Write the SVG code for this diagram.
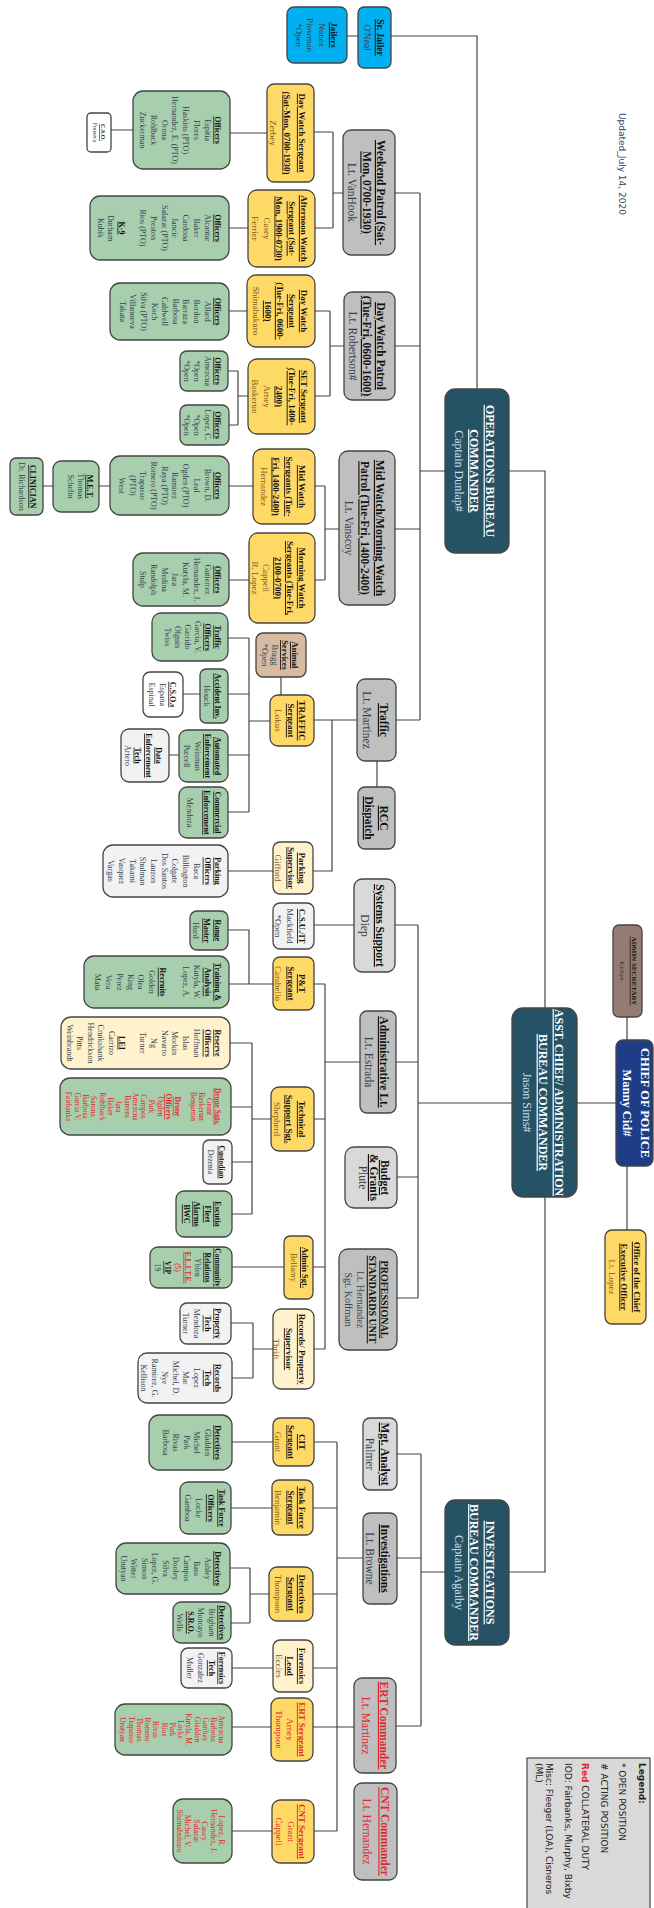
<svg xmlns="http://www.w3.org/2000/svg" width="654" height="1908" viewBox="0 0 654 1908">
<style>
text{font-family:"Liberation Serif","Times New Roman",serif;text-anchor:middle}
.h{font-weight:bold;text-decoration:underline;fill:#111}
.n{fill:#34404f}
.ny{fill:#7a5a1c}
.r{fill:#e3262d}
.hr{font-weight:bold;text-decoration:underline;fill:#e3262d}
.w{fill:#fff;font-weight:bold;text-decoration:underline}
.wl{fill:#cfdeea}
.wc{fill:#fff;font-weight:bold}
.bx{stroke:#444;stroke-width:1.3}
.fy{fill:#ffd966}.fg{fill:#a7cfae}.fgr{fill:#bfbfbf}.flg{fill:#d9d9d9}.fcr{fill:#fff2cc}.fwh{fill:#fff}.fpl{fill:#f2f2f2}.fbl{fill:#00b0f0}.fcm{fill:#265266}.fch{fill:#1f3d86}.ftn{fill:#d7baa0}.fbr{fill:#947c72}
.lg text{font-family:"DejaVu Sans","Verdana",sans-serif;text-anchor:start;fill:#222}
#connectors path{fill:none;stroke:#444;stroke-width:1.2}
</style>

<g id="connectors">
<path d="M347,36H358M391,36H477V389"/>
<path d="M111,130H133M230,133H267M229,228H248"/>
<path d="M314,132H333M315,228H333M333,132V228M333,193H343M395,193H420M420,193V720M420,471H445"/>
<path d="M229,311H247M315,311H330M315,396H330M330,311V396M330,346H344M395,346H420"/>
<path d="M248,396H238M238,371V425M228,371H238M229,425H238"/>
<path d="M229,486H253M99,486H110M43,486H53M229,580H249"/>
<path d="M315,486H325M315,580H325M325,486V580M325,529H339M395,529H420"/>
<path d="M396,720H420M357,720H314M332,720V871H313M377,761V787M281,677V695"/>
<path d="M270,721H249M249,638V812M228,638H249M228,694H249M228,755H249M228,812H249M183,694H200M169,755H179M228,871H273"/>
<path d="M509,471H545V1008M545,1197V1572H509M577,1103H616M627,1017V1040M627,1166V1230"/>
<path d="M512,1103H418M418,925V1298M395,925H418M354,925H314M396,1062H418M360,1062H325M397,1177H418M397,1298H418"/>
<path d="M325,984V1349M314,984H325M273,984H229M228,930H249V984"/>
<path d="M314,1119H325M271,1119H252M252,1043V1214M230,1043H252M231,1107H252M232,1162H252M232,1214H252"/>
<path d="M313,1267H325M284,1267H232M314,1349H325M273,1349H253M253,1323V1378M231,1323H253M232,1378H253"/>
<path d="M445,1572H421M421,1454V1726M397,1454H421M397,1558H421M363,1558H337M396,1726H421M337,1442V1831"/>
<path d="M314,1442H337M273,1442H232M313,1508H337M272,1508H231M313,1594H337M269,1594H250M250,1568V1623M230,1568H250M231,1623H250"/>
<path d="M313,1668H337M273,1668H232M313,1727H354M271,1727H232M314,1831H337M272,1831H232"/>
</g>

<g id="updated" class="lg"><text transform="translate(619,113) rotate(90)" font-size="9" style="fill:#2f3f6f">Updated_July 14, 2020</text></g>

<g id="jailers"><rect class="bx fbl" x="287" y="7" width="60" height="56" rx="7"/><g transform="translate(317,35) rotate(90)"><text y="-13.8" font-size="9"><tspan x="0" class="h">Jailers</tspan><tspan x="0" dy="11.7" class="n">Nunez</tspan><tspan x="0" dy="11.7" class="n">Plowman</tspan><tspan x="0" dy="11.7" class="n">*Open</tspan></text></g></g>

<g id="sr-jailer"><rect class="bx fbl" x="358" y="7" width="33" height="61" rx="6"/><g transform="translate(374.5,37.5) rotate(90)"><text y="-2.2" font-size="9.5"><tspan x="0" class="h">Sr. Jailer</tspan><tspan x="0" dy="13" class="n">O'Neal</tspan></text></g></g>

<g id="weekend-patrol"><rect class="bx fgr" x="343" y="130" width="52" height="125" rx="8"/><g transform="translate(369,192.5) rotate(90)"><text y="-8" font-size="11.5"><tspan x="0" class="h">Weekend Patrol (Sat-</tspan><tspan x="0" dy="14.5" class="h">Mon, 0700-1930)</tspan><tspan x="0" dy="14.5" class="n">Lt. VanHook</tspan></text></g></g>

<g id="day-watch-sgt-weekend"><rect class="bx fy" x="267" y="84" width="47" height="98" rx="7"/><g transform="translate(290.5,133) rotate(90)"><text y="-8.3" font-size="9"><tspan x="0" class="h">Day Watch Sergeant</tspan><tspan x="0" dy="14.5" class="h">(Sat-Mon, 0700-1930)</tspan><tspan x="0" dy="14.5" class="ny">Zerbey</tspan></text></g></g>

<g id="officers-weekend-day"><rect class="bx fg" x="133" y="91" width="97" height="78" rx="10"/><g transform="translate(181.5,130) rotate(90)"><text y="-33.7" font-size="8"><tspan x="0" class="h">Officers</tspan><tspan x="0" dy="10.7" class="n">Espitia</tspan><tspan x="0" dy="10.7" class="n">Flores</tspan><tspan x="0" dy="10.7" class="n">Haskins (PTO)</tspan><tspan x="0" dy="10.7" class="n">Hernandez, E. (PTO)</tspan><tspan x="0" dy="10.7" class="n">Orona</tspan><tspan x="0" dy="10.7" class="n">Rohlback</tspan><tspan x="0" dy="10.7" class="n">Zuckerman</tspan></text></g></g>

<g id="cso-weekend"><rect class="bx fwh" x="87" y="113" width="24" height="39" rx="4"/><g transform="translate(99,132.5) rotate(90)"><text y="-1.9" font-size="6"><tspan x="0" class="h">C.S.O.</tspan><tspan x="0" dy="8" class="n">Fonseca</tspan></text></g></g>

<g id="afternoon-watch-sgt"><rect class="bx fy" x="248" y="190" width="67" height="77" rx="9"/><g transform="translate(281.5,228.5) rotate(90)"><text y="-19.3" font-size="9"><tspan x="0" class="h">Afternoon Watch</tspan><tspan x="0" dy="12.2" class="h">Sergeant (Sat-</tspan><tspan x="0" dy="12.2" class="h">Mon, 1900-0730)</tspan><tspan x="0" dy="12.2" class="ny">Casey</tspan><tspan x="0" dy="12.2" class="ny">Ferrier</tspan></text></g></g>

<g id="officers-weekend-night"><rect class="bx fg" x="90" y="196" width="139" height="64" rx="10"/><g transform="translate(159.5,228) rotate(90)"><text y="-55.7" font-size="8"><tspan x="0" class="h">Officers</tspan><tspan x="0" dy="10.7" class="n">Alcantar</tspan><tspan x="0" dy="10.7" class="n">Baker</tspan><tspan x="0" dy="10.7" class="n">Cardona</tspan><tspan x="0" dy="10.7" class="n">Jancic</tspan><tspan x="0" dy="10.7" class="n">Salazar (PTO)</tspan><tspan x="0" dy="10.7" class="n">Preston</tspan><tspan x="0" dy="10.7" class="n">Rios (PTO)</tspan><tspan x="0" dy="21" class="h">K-9</tspan><tspan x="0" dy="11" class="n">Durham</tspan><tspan x="0" dy="10.5" class="n">Kubik</tspan></text></g></g>

<g id="day-watch-sgt-tf"><rect class="bx fy" x="247" y="275" width="68" height="72" rx="9"/><g transform="translate(281,311) rotate(90)"><text y="-19.8" font-size="9"><tspan x="0" class="h">Day Watch</tspan><tspan x="0" dy="12" class="h">Sergeant</tspan><tspan x="0" dy="12" class="h">(Tue-Fri, 0600-</tspan><tspan x="0" dy="12" class="h">1600)</tspan><tspan x="0" dy="12" class="ny">Shimabukuro</tspan></text></g></g>

<g id="officers-tf-day"><rect class="bx fg" x="110" y="283" width="119" height="57" rx="10"/><g transform="translate(169.5,311.5) rotate(90)"><text y="-45.7" font-size="8"><tspan x="0" class="h">Officers</tspan><tspan x="0" dy="10.6" class="n">Allard</tspan><tspan x="0" dy="10.6" class="n">Bordon</tspan><tspan x="0" dy="10.6" class="n">Barraza</tspan><tspan x="0" dy="10.6" class="n">Barbosa</tspan><tspan x="0" dy="10.6" class="n">Caldwell</tspan><tspan x="0" dy="10.6" class="n">Koch</tspan><tspan x="0" dy="10.6" class="n">Silva (PTO)</tspan><tspan x="0" dy="10.6" class="n">Villanueva</tspan><tspan x="0" dy="10.6" class="n">Takata</tspan></text></g></g>

<g id="day-watch-patrol-tf"><rect class="bx fgr" x="344" y="292" width="51" height="108" rx="8"/><g transform="translate(369.5,346) rotate(90)"><text y="-7.5" font-size="11.5"><tspan x="0" class="h">Day Watch Patrol</tspan><tspan x="0" dy="14" class="h">(Tue-Fri, 0600-1600)</tspan><tspan x="0" dy="14" class="n">Lt. Robertson#</tspan></text></g></g>

<g id="set-sgt"><rect class="bx fy" x="248" y="359" width="67" height="75" rx="9"/><g transform="translate(281.5,396.5) rotate(90)"><text y="-19.3" font-size="9"><tspan x="0" class="h">SET Sergeant</tspan><tspan x="0" dy="12.2" class="h">(Tue-Fri, 1400-</tspan><tspan x="0" dy="12.2" class="h">2400)</tspan><tspan x="0" dy="12.2" class="ny">Arney</tspan><tspan x="0" dy="12.2" class="ny">Baskerun</tspan></text></g></g>

<g id="set-officers-a"><rect class="bx fg" x="180" y="351" width="48" height="40" rx="7"/><g transform="translate(204,371) rotate(90)"><text y="-11.2" font-size="8"><tspan x="0" class="h">Officers</tspan><tspan x="0" dy="10.5" class="n">Amezcua</tspan><tspan x="0" dy="10.5" class="n">*Open</tspan><tspan x="0" dy="10.5" class="n">*Open</tspan></text></g></g>

<g id="set-officers-b"><rect class="bx fg" x="180" y="405" width="49" height="40" rx="7"/><g transform="translate(204.5,425) rotate(90)"><text y="-10.7" font-size="8"><tspan x="0" class="h">Officers</tspan><tspan x="0" dy="10.5" class="n">Lopez, C.</tspan><tspan x="0" dy="10.5" class="n">*Open</tspan><tspan x="0" dy="10.5" class="n">*Open</tspan></text></g></g>

<g id="mid-watch-sgt"><rect class="bx fy" x="253" y="449" width="62" height="75" rx="9"/><g transform="translate(284,486.5) rotate(90)"><text y="-14.8" font-size="9"><tspan x="0" class="h">Mid Watch</tspan><tspan x="0" dy="12.7" class="h">Sergeants (Tue-</tspan><tspan x="0" dy="12.7" class="h">Fri, 1400-2400)</tspan><tspan x="0" dy="12.7" class="ny">Hernandez</tspan></text></g></g>

<g id="mid-watch-officers"><rect class="bx fg" x="110" y="456" width="119" height="59" rx="10"/><g transform="translate(169.5,485.5) rotate(90)"><text y="-45.7" font-size="8"><tspan x="0" class="h">Officers</tspan><tspan x="0" dy="10.7" class="n">Brown, D.</tspan><tspan x="0" dy="10.7" class="n">Leal</tspan><tspan x="0" dy="10.7" class="n">Ogden (PTO)</tspan><tspan x="0" dy="10.7" class="n">Ramirez</tspan><tspan x="0" dy="10.7" class="n">Raya (PTO)</tspan><tspan x="0" dy="10.7" class="n">Romero (PTO)</tspan><tspan x="0" dy="10.7" class="n">Trapasso</tspan><tspan x="0" dy="10.7" class="n">(PTO)</tspan><tspan x="0" dy="10.7" class="n">West</tspan></text></g></g>

<g id="met"><rect class="bx fg" x="53" y="461" width="46" height="51" rx="8"/><g transform="translate(76,486.5) rotate(90)"><text y="-11.2" font-size="8"><tspan x="0" class="h">M.E.T.</tspan><tspan x="0" dy="9.5" class="n">Thomas</tspan><tspan x="0" dy="9.5" class="n">Schelin</tspan></text></g></g>

<g id="clinician"><rect class="bx fg" x="10" y="458" width="33" height="57" rx="6"/><g transform="translate(26.5,486.5) rotate(90)"><text y="-3.7" font-size="8"><tspan x="0" class="h">CLINICIAN</tspan><tspan x="0" dy="11" class="n">Dr. Richardson</tspan></text></g></g>

<g id="morning-watch-sgt"><rect class="bx fy" x="249" y="533" width="66" height="90" rx="9"/><g transform="translate(282,578) rotate(90)"><text y="-16.8" font-size="9"><tspan x="0" class="h">Morning Watch</tspan><tspan x="0" dy="11.8" class="h">Sergeants (Tue-Fri,</tspan><tspan x="0" dy="11.8" class="h">2100-0700)</tspan><tspan x="0" dy="11.8" class="ny">Cappell</tspan><tspan x="0" dy="11.8" class="ny">R. Lopez</tspan></text></g></g>

<g id="morning-watch-officers"><rect class="bx fg" x="133" y="553" width="96" height="53" rx="10"/><g transform="translate(181,579.5) rotate(90)"><text y="-34.2" font-size="8"><tspan x="0" class="h">Officers</tspan><tspan x="0" dy="10.7" class="n">Gutierrez</tspan><tspan x="0" dy="10.7" class="n">Hernandez, J.</tspan><tspan x="0" dy="10.7" class="n">Kutyla, M.</tspan><tspan x="0" dy="10.7" class="n">Jara</tspan><tspan x="0" dy="10.7" class="n">Medina</tspan><tspan x="0" dy="10.7" class="n">Randolph</tspan><tspan x="0" dy="10.7" class="n">Stulp</tspan></text></g></g>

<g id="mid-morning-patrol"><rect class="bx fgr" x="339" y="451" width="56" height="154" rx="9"/><g transform="translate(367,528) rotate(90)"><text y="-9" font-size="11.5"><tspan x="0" class="h">Mid Watch/Morning Watch</tspan><tspan x="0" dy="15.5" class="h">Patrol (Tue-Fri, 1400-2400)</tspan><tspan x="0" dy="15.5" class="n">Lt. Vanscoy</tspan></text></g></g>

<g id="operations-commander"><rect class="bx fcm" x="445" y="389" width="64" height="164" rx="10"/><g transform="translate(477,471) rotate(90)"><text y="-8.8" font-size="12"><tspan x="0" class="w">OPERATIONS BUREAU</tspan><tspan x="0" dy="15.5" class="w">COMMANDER</tspan><tspan x="0" dy="15.5" class="wl">Captain Dunlap#</tspan></text></g></g>

<g id="traffic-lt"><rect class="bx fgr" x="357" y="679" width="39" height="82" rx="8"/><g transform="translate(376.5,720) rotate(90)"><text y="-3.5" font-size="11.5"><tspan x="0" class="h">Traffic</tspan><tspan x="0" dy="17" class="n">Lt. Martinez</tspan></text></g></g>

<g id="rcc-dispatch"><rect class="bx fgr" x="358" y="787" width="37" height="62" rx="7"/><g transform="translate(376.5,818) rotate(90)"><text y="-3.5" font-size="11.5"><tspan x="0" class="h">RCC</tspan><tspan x="0" dy="15" class="h">Dispatch</tspan></text></g></g>

<g id="traffic-sgt"><rect class="bx fy" x="270" y="695" width="44" height="51" rx="8"/><g transform="translate(292,720.5) rotate(90)"><text y="-6.8" font-size="9"><tspan x="0" class="h">TRAFFIC</tspan><tspan x="0" dy="11" class="h">Sergeant</tspan><tspan x="0" dy="12.5" class="ny">Lokus</tspan></text></g></g>

<g id="animal-services"><rect class="bx ftn" x="256" y="633" width="50" height="44" rx="7"/><g transform="translate(281,655) rotate(90)"><text y="-11" font-size="8.5"><tspan x="0" class="h">Animal</tspan><tspan x="0" dy="10" class="h">Services</tspan><tspan x="0" dy="10" class="n">Bragg</tspan><tspan x="0" dy="10" class="n">*Open</tspan></text></g></g>

<g id="traffic-officers"><rect class="bx fg" x="152" y="613" width="76" height="48" rx="9"/><g transform="translate(190,637) rotate(90)"><text y="-25.2" font-size="8"><tspan x="0" class="h">Traffic</tspan><tspan x="0" dy="10" class="h">Officers</tspan><tspan x="0" dy="10" class="n">Garcia, V.</tspan><tspan x="0" dy="10" class="n">Garrido</tspan><tspan x="0" dy="10" class="n">Olguin</tspan><tspan x="0" dy="10" class="n">Twiss</tspan></text></g></g>

<g id="accident-inv"><rect class="bx fg" x="200" y="669" width="28" height="54" rx="6"/><g transform="translate(214,696) rotate(90)"><text y="-1.2" font-size="8"><tspan x="0" class="h">Accident Inv.</tspan><tspan x="0" dy="11" class="n">Houck</tspan></text></g></g>

<g id="csos"><rect class="bx fwh" x="143" y="672" width="40" height="45" rx="7"/><g transform="translate(163,694.5) rotate(90)"><text y="-7.2" font-size="8"><tspan x="0" class="h">C.S.O.s</tspan><tspan x="0" dy="10.5" class="n">Espana</tspan><tspan x="0" dy="10.5" class="n">Espinal</tspan></text></g></g>

<g id="automated-enforcement"><rect class="bx fg" x="179" y="730" width="49" height="52" rx="8"/><g transform="translate(203.5,756) rotate(90)"><text y="-11.7" font-size="8"><tspan x="0" class="h">Automated</tspan><tspan x="0" dy="10.3" class="h">Enforcement</tspan><tspan x="0" dy="10.3" class="n">Weisman</tspan><tspan x="0" dy="10.3" class="n">Purcell</tspan></text></g></g>

<g id="data-enforcement-tech"><rect class="bx fpl" x="121" y="729" width="48" height="53" rx="8"/><g transform="translate(145,755.5) rotate(90)"><text y="-11.2" font-size="8"><tspan x="0" class="h">Data</tspan><tspan x="0" dy="10.4" class="h">Enforcement</tspan><tspan x="0" dy="10.4" class="h">Tech</tspan><tspan x="0" dy="10.4" class="n">Artero</tspan></text></g></g>

<g id="commercial-enforcement"><rect class="bx fg" x="179" y="787" width="49" height="51" rx="8"/><g transform="translate(203.5,812.5) rotate(90)"><text y="-11.7" font-size="8"><tspan x="0" class="h">Commercial</tspan><tspan x="0" dy="11" class="h">Enforcement</tspan><tspan x="0" dy="17" class="n">Mendoza</tspan></text></g></g>

<g id="parking-supervisor"><rect class="bx fcr" x="273" y="842" width="40" height="52" rx="7"/><g transform="translate(293,868) rotate(90)"><text y="-5.8" font-size="9"><tspan x="0" class="h">Parking</tspan><tspan x="0" dy="10.5" class="h">Supervisor</tspan><tspan x="0" dy="13" class="ny">Gifford</tspan></text></g></g>

<g id="parking-officers"><rect class="bx fpl" x="103" y="845" width="125" height="52" rx="10"/><g transform="translate(165.5,871) rotate(90)"><text y="-49.7" font-size="8"><tspan x="0" class="h">Parking</tspan><tspan x="0" dy="10.7" class="h">Officers</tspan><tspan x="0" dy="10.7" class="n">Baca</tspan><tspan x="0" dy="10.7" class="n">Billington</tspan><tspan x="0" dy="10.7" class="n">Colgate</tspan><tspan x="0" dy="10.7" class="n">Dos Santos</tspan><tspan x="0" dy="10.7" class="n">Lauzon</tspan><tspan x="0" dy="10.7" class="n">Shulman</tspan><tspan x="0" dy="10.7" class="n">Takami</tspan><tspan x="0" dy="10.7" class="n">Vasquez</tspan><tspan x="0" dy="10.7" class="n">Vargas</tspan></text></g></g>

<g id="systems-support"><rect class="bx flg" x="354" y="879" width="41" height="93" rx="8"/><g transform="translate(374.5,925.5) rotate(90)"><text y="-1.5" font-size="11.5"><tspan x="0" class="h">Systems Support</tspan><tspan x="0" dy="15" class="n">Diep</tspan></text></g></g>

<g id="csu-it"><rect class="bx fpl" x="273" y="903" width="41" height="46" rx="7"/><g transform="translate(293.5,926) rotate(90)"><text y="-5.5" font-size="8.5"><tspan x="0" class="h">C.S.U./IT</tspan><tspan x="0" dy="12" class="n">Mackfield</tspan><tspan x="0" dy="12" class="n">*Open</tspan></text></g></g>

<g id="administrative-lt"><rect class="bx fgr" x="360" y="1011" width="36" height="102" rx="7"/><g transform="translate(378,1062) rotate(90)"><text y="-2" font-size="11.5"><tspan x="0" class="h">Administrative Lt.</tspan><tspan x="0" dy="15" class="n">Lt. Estrada</tspan></text></g></g>

<g id="budget-grants"><rect class="bx flg" x="345" y="1147" width="52" height="61" rx="9"/><g transform="translate(371,1177.5) rotate(90)"><text y="-10" font-size="11.5"><tspan x="0" class="h">Budget</tspan><tspan x="0" dy="11" class="h">&amp; Grants</tspan><tspan x="0" dy="11" class="n">Plute</tspan></text></g></g>

<g id="professional-standards"><rect class="bx fgr" x="339" y="1249" width="58" height="101" rx="9"/><g transform="translate(368,1299.5) rotate(90)"><text y="-13.3" font-size="10"><tspan x="0" class="h">PROFESSIONAL</tspan><tspan x="0" dy="12.5" class="h">STANDARDS UNIT</tspan><tspan x="0" dy="12" class="n">Lt. Hernandez</tspan><tspan x="0" dy="11.5" class="n">Sgt. Koffman</tspan></text></g></g>

<g id="asst-chief"><rect class="bx fcm" x="512" y="1008" width="65" height="189" rx="11"/><g transform="translate(544.5,1102.5) rotate(90)"><text y="-10.3" font-size="12"><tspan x="0" class="w">ASST. CHIEF/ ADMINISTRATION</tspan><tspan x="0" dy="16" class="w">BUREAU COMMANDER</tspan><tspan x="0" dy="16" class="wl">Jason Sims#</tspan></text></g></g>

<g id="chief"><rect class="bx fch" x="616" y="1040" width="37" height="126" rx="7"/><g transform="translate(634,1103) rotate(90)"><text y="-6.6" font-size="12.5"><tspan x="0" class="wc">CHIEF OF POLICE</tspan><tspan x="0" dy="17.5" class="wc">Manny Cid#</tspan></text></g></g>

<g id="admin-secretary"><rect class="bx fbr" x="613" y="925" width="29" height="92" rx="6"/><g transform="translate(627.5,971) rotate(90)"><text y="-4" font-size="7"><tspan x="0" class="h">ADMIN SECRETARY</tspan><tspan x="0" dy="12" style="fill:#3a2e2a">Kirbye</tspan></text></g></g>

<g id="office-of-chief"><rect class="bx fy" x="605" y="1230" width="41" height="94" rx="7"/><g transform="translate(625.5,1277) rotate(90)"><text y="-8.3" font-size="9"><tspan x="0" class="h">Office of the Chief</tspan><tspan x="0" dy="12.5" class="h">Executive Officer</tspan><tspan x="0" dy="12.5" class="ny">Lt. Lopez</tspan></text></g></g>

<g id="pt-sgt"><rect class="bx fy" x="273" y="957" width="41" height="53" rx="7"/><g transform="translate(293.5,983.5) rotate(90)"><text y="-5.3" font-size="9"><tspan x="0" class="h">P&amp;T</tspan><tspan x="0" dy="10.5" class="h">Sergeant</tspan><tspan x="0" dy="13" class="ny">Carabello</tspan></text></g></g>

<g id="range-master"><rect class="bx fg" x="190" y="911" width="38" height="39" rx="7"/><g transform="translate(209,930.5) rotate(90)"><text y="-6.2" font-size="8"><tspan x="0" class="h">Range</tspan><tspan x="0" dy="11" class="h">Master</tspan><tspan x="0" dy="11" class="n">Hurd</tspan></text></g></g>

<g id="training-analysis"><rect class="bx fg" x="84" y="956" width="145" height="52" rx="10"/><g transform="translate(156.5,982) rotate(90)"><text y="-58.7" font-size="8"><tspan x="0" class="h">Training &amp;</tspan><tspan x="0" dy="10.7" class="h">Analysis</tspan><tspan x="0" dy="10.7" class="n">Kutyla, W.</tspan><tspan x="0" dy="10.7" class="n">Lopez, A.</tspan><tspan x="0" dy="23.5" class="h">Recruits</tspan><tspan x="0" dy="10.7" class="n">Golden</tspan><tspan x="0" dy="10.7" class="n">Olea</tspan><tspan x="0" dy="10.7" class="n">King</tspan><tspan x="0" dy="10.7" class="n">Perez</tspan><tspan x="0" dy="10.7" class="n">Vera</tspan><tspan x="0" dy="10.7" class="n">Mata</tspan></text></g></g>

<g id="reserve-officers"><rect class="bx fcr" x="61" y="1017" width="169" height="52" rx="10"/><g transform="translate(145.5,1043) rotate(90)"><text y="-69.7" font-size="8"><tspan x="0" class="h">Reserve</tspan><tspan x="0" dy="10.7" class="h">Officers</tspan><tspan x="0" dy="10.7" class="n">Hoffman</tspan><tspan x="0" dy="10.7" class="n">Islas</tspan><tspan x="0" dy="10.7" class="n">Morkin</tspan><tspan x="0" dy="10.7" class="n">Navarro</tspan><tspan x="0" dy="10.7" class="n">Ng</tspan><tspan x="0" dy="10.7" class="n">Turner</tspan><tspan x="0" dy="21" class="h">LEI</tspan><tspan x="0" dy="10.5" class="n">Carrizo</tspan><tspan x="0" dy="10.5" class="n">Cruikshank</tspan><tspan x="0" dy="10.5" class="n">Hendrickson</tspan><tspan x="0" dy="10.5" class="n">Pitts</tspan><tspan x="0" dy="10.5" class="n">Weinbrandt</tspan></text></g></g>

<g id="drone"><rect class="bx fg" x="60" y="1078" width="171" height="57" rx="10"/><g transform="translate(145.5,1106.5) rotate(90)"><text y="-69.9" font-size="7.5"><tspan x="0" class="hr">Drone Sgts.</tspan><tspan x="0" dy="8.3" class="r">Grant</tspan><tspan x="0" dy="8.3" class="r">Baskerun</tspan><tspan x="0" dy="8.3" class="r">Benjamin</tspan><tspan x="0" dy="16" class="hr">Drone</tspan><tspan x="0" dy="8.5" class="hr">Officers</tspan><tspan x="0" dy="8.3" class="r">Ogden</tspan><tspan x="0" dy="8.3" class="r">Park</tspan><tspan x="0" dy="8.3" class="r">Campos</tspan><tspan x="0" dy="8.3" class="r">Amezcua</tspan><tspan x="0" dy="8.3" class="r">Barrera</tspan><tspan x="0" dy="8.3" class="r">Jara</tspan><tspan x="0" dy="8.3" class="r">Baker</tspan><tspan x="0" dy="8.3" class="r">Rohlback</tspan><tspan x="0" dy="8.3" class="r">Sarona</tspan><tspan x="0" dy="8.3" class="r">Barbosa</tspan><tspan x="0" dy="8.3" class="r">Garcia V.</tspan><tspan x="0" dy="8.3" class="r">Fairbanks</tspan></text></g></g>

<g id="custodian"><rect class="bx fpl" x="203" y="1140" width="29" height="44" rx="6"/><g transform="translate(217.5,1162) rotate(90)"><text y="-1.9" font-size="7.5"><tspan x="0" class="h">Custodian</tspan><tspan x="0" dy="11" class="n">Dezenia</tspan></text></g></g>

<g id="fleet"><rect class="bx fg" x="176" y="1191" width="56" height="46" rx="8"/><g transform="translate(204,1214) rotate(90)"><text y="-11.2" font-size="8"><tspan x="0" class="h">Escutia</tspan><tspan x="0" dy="10.5" class="h">Fleet</tspan><tspan x="0" dy="10.5" class="h">Alarms</tspan><tspan x="0" dy="10.5" class="h">BWC</tspan></text></g></g>

<g id="technical-support-sgt"><rect class="bx fy" x="271" y="1087" width="43" height="64" rx="8"/><g transform="translate(292.5,1119) rotate(90)"><text y="-6.3" font-size="9"><tspan x="0" class="h">Technical</tspan><tspan x="0" dy="12.5" class="h">Support Sgt.</tspan><tspan x="0" dy="12.5" class="ny">Shepherd</tspan></text></g></g>

<g id="admin-sgt"><rect class="bx fy" x="284" y="1236" width="29" height="63" rx="6"/><g transform="translate(298.5,1267.5) rotate(90)"><text y="-3.5" font-size="8.5"><tspan x="0" class="h">Admin Sgt.</tspan><tspan x="0" dy="11.5" class="ny">Bellamy</tspan></text></g></g>

<g id="community-relations"><rect class="bx fg" x="150" y="1247" width="82" height="41" rx="8"/><g transform="translate(191,1267.5) rotate(90)"><text y="-24.2" font-size="7.5"><tspan x="0" class="h">Community</tspan><tspan x="0" dy="10" class="h">Relations</tspan><tspan x="0" dy="10" class="n">Yblen</tspan><tspan x="0" dy="10" class="hr">E.L.I.T.E.</tspan><tspan x="0" dy="10" class="r">(5)</tspan><tspan x="0" dy="10" class="h">VIP</tspan><tspan x="0" dy="10" class="n">19</tspan></text></g></g>

<g id="records-property-sup"><rect class="bx fcr" x="273" y="1309" width="41" height="80" rx="8"/><g transform="translate(293.5,1349) rotate(90)"><text y="-5.3" font-size="9"><tspan x="0" class="h">Records/ Property</tspan><tspan x="0" dy="13" class="h">Supervisor</tspan><tspan x="0" dy="13" class="ny">Thrift</tspan></text></g></g>

<g id="property-tech"><rect class="bx fpl" x="180" y="1303" width="51" height="41" rx="7"/><g transform="translate(205.5,1323.5) rotate(90)"><text y="-9.7" font-size="8"><tspan x="0" class="h">Property</tspan><tspan x="0" dy="10.7" class="h">Tech</tspan><tspan x="0" dy="10.7" class="n">Mendoza</tspan><tspan x="0" dy="10.7" class="n">Turner</tspan></text></g></g>

<g id="records-tech"><rect class="bx fpl" x="138" y="1353" width="94" height="50" rx="9"/><g transform="translate(185,1378) rotate(90)"><text y="-30.2" font-size="8"><tspan x="0" class="h">Records</tspan><tspan x="0" dy="10.6" class="h">Tech</tspan><tspan x="0" dy="10.6" class="n">Lopez</tspan><tspan x="0" dy="10.6" class="n">Mar</tspan><tspan x="0" dy="10.6" class="n">Michel, D.</tspan><tspan x="0" dy="10.6" class="n">Nye</tspan><tspan x="0" dy="10.6" class="n">Ramirez, G.</tspan><tspan x="0" dy="10.6" class="n">Kellison</tspan></text></g></g>

<g id="mgt-analyst"><rect class="bx flg" x="363" y="1418" width="34" height="72" rx="7"/><g transform="translate(380,1454) rotate(90)"><text y="-1" font-size="11.5"><tspan x="0" class="h">Mgt. Analyst</tspan><tspan x="0" dy="15" class="n">Palmer</tspan></text></g></g>

<g id="investigations-lt"><rect class="bx fgr" x="363" y="1513" width="34" height="91" rx="7"/><g transform="translate(380,1558.5) rotate(90)"><text y="-1" font-size="11.5"><tspan x="0" class="h">Investigations</tspan><tspan x="0" dy="15" class="n">Lt. Browne</tspan></text></g></g>

<g id="investigations-commander"><rect class="bx fcm" x="445" y="1500" width="64" height="145" rx="10"/><g transform="translate(477,1572.5) rotate(90)"><text y="-8.8" font-size="12"><tspan x="0" class="w">INVESTIGATIONS</tspan><tspan x="0" dy="15.5" class="w">BUREAU COMMANDER</tspan><tspan x="0" dy="15.5" class="wl">Captain Agaiby</tspan></text></g></g>

<g id="ert-commander"><rect class="bx fgr" x="354" y="1678" width="42" height="95" rx="8"/><g transform="translate(375,1725.5) rotate(90)"><text y="-5" font-size="11.5"><tspan x="0" class="hr">ERT Commander</tspan><tspan x="0" dy="18" class="r">Lt. Martinez</tspan></text></g></g>

<g id="cnt-commander"><rect class="bx fgr" x="354" y="1783" width="43" height="97" rx="8"/><g transform="translate(375.5,1831.5) rotate(90)"><text y="-5" font-size="11.5"><tspan x="0" class="hr">CNT Commander</tspan><tspan x="0" dy="18" class="r">Lt. Hernandez</tspan></text></g></g>

<g id="cit-sgt"><rect class="bx fy" x="273" y="1418" width="41" height="48" rx="7"/><g transform="translate(293.5,1442) rotate(90)"><text y="-5.3" font-size="9"><tspan x="0" class="h">CIT</tspan><tspan x="0" dy="10.5" class="h">Sergeant</tspan><tspan x="0" dy="13" class="ny">Grant</tspan></text></g></g>

<g id="cit-detectives"><rect class="bx fg" x="149" y="1415" width="83" height="55" rx="10"/><g transform="translate(190.5,1442.5) rotate(90)"><text y="-24.7" font-size="8"><tspan x="0" class="h">Detectives</tspan><tspan x="0" dy="10.5" class="n">Gladden</tspan><tspan x="0" dy="10.5" class="n">Michel</tspan><tspan x="0" dy="10.5" class="n">Park</tspan><tspan x="0" dy="10.5" class="n">Rivas</tspan><tspan x="0" dy="10.5" class="n">Barbosa</tspan></text></g></g>

<g id="task-force-sgt"><rect class="bx fy" x="272" y="1480" width="41" height="55" rx="7"/><g transform="translate(292.5,1507.5) rotate(90)"><text y="-6.3" font-size="9"><tspan x="0" class="h">Task Force</tspan><tspan x="0" dy="10.5" class="h">Sergeant</tspan><tspan x="0" dy="13" class="ny">Benjamin</tspan></text></g></g>

<g id="task-force-officers"><rect class="bx fg" x="180" y="1482" width="51" height="52" rx="8"/><g transform="translate(205.5,1508) rotate(90)"><text y="-13.7" font-size="8"><tspan x="0" class="h">Task Force</tspan><tspan x="0" dy="11.5" class="h">Officers</tspan><tspan x="0" dy="11.5" class="n">Locke</tspan><tspan x="0" dy="11.5" class="n">Gamboa</tspan></text></g></g>

<g id="detectives-sgt"><rect class="bx fy" x="269" y="1567" width="44" height="54" rx="8"/><g transform="translate(291,1594) rotate(90)"><text y="-7.8" font-size="9"><tspan x="0" class="h">Detectives</tspan><tspan x="0" dy="10.5" class="h">Sergeant</tspan><tspan x="0" dy="13" class="ny">Thompson</tspan></text></g></g>

<g id="detectives"><rect class="bx fg" x="116" y="1543" width="114" height="51" rx="10"/><g transform="translate(173,1568.5) rotate(90)"><text y="-42.2" font-size="8"><tspan x="0" class="h">Detectives</tspan><tspan x="0" dy="10.5" class="n">Ashley</tspan><tspan x="0" dy="10.5" class="n">Bass</tspan><tspan x="0" dy="10.5" class="n">Campos</tspan><tspan x="0" dy="10.5" class="n">Dooley</tspan><tspan x="0" dy="10.5" class="n">Silva</tspan><tspan x="0" dy="10.5" class="n">Lopez, G.</tspan><tspan x="0" dy="10.5" class="n">Simon</tspan><tspan x="0" dy="10.5" class="n">Witter</tspan><tspan x="0" dy="10.5" class="n">Urutyan</tspan></text></g></g>

<g id="detectives-sro"><rect class="bx fg" x="173" y="1602" width="58" height="41" rx="8"/><g transform="translate(202,1622.5) rotate(90)"><text y="-17.2" font-size="8"><tspan x="0" class="h">Detectives</tspan><tspan x="0" dy="10.5" class="n">Brigham</tspan><tspan x="0" dy="10.5" class="n">Moncayo</tspan><tspan x="0" dy="10.5" class="h">S.R.O.</tspan><tspan x="0" dy="10.5" class="n">Wells</tspan></text></g></g>

<g id="forensics-lead"><rect class="bx fcr" x="273" y="1640" width="40" height="52" rx="7"/><g transform="translate(293,1666) rotate(90)"><text y="-5.8" font-size="9"><tspan x="0" class="h">Forensics</tspan><tspan x="0" dy="12" class="h">Lead</tspan><tspan x="0" dy="11" class="ny">Eccles</tspan></text></g></g>

<g id="forensics-tech"><rect class="bx fpl" x="181" y="1648" width="51" height="40" rx="7"/><g transform="translate(206.5,1668) rotate(90)"><text y="-12.7" font-size="8"><tspan x="0" class="h">Forensics</tspan><tspan x="0" dy="10.5" class="h">Tech</tspan><tspan x="0" dy="11" class="n">Gonzalez</tspan><tspan x="0" dy="11" class="n">Muller</tspan></text></g></g>

<g id="ert-sgt"><rect class="bx fy" x="271" y="1698" width="42" height="63" rx="8"/><g transform="translate(292,1729.5) rotate(90)"><text y="-6.8" font-size="9"><tspan x="0" class="hr">ERT Sergeant</tspan><tspan x="0" dy="11.5" class="r">Arney</tspan><tspan x="0" dy="11.5" class="r">Thompson</tspan></text></g></g>

<g id="ert-members"><rect class="bx fg" x="115" y="1704" width="117" height="51" rx="10"/><g transform="translate(173.5,1729.5) rotate(90)"><text y="-45.9" font-size="7.5"><tspan x="0" class="r">Amezcua</tspan><tspan x="0" dy="8.25" class="r">Barbosa</tspan><tspan x="0" dy="8.25" class="r">Garibay</tspan><tspan x="0" dy="8.25" class="r">Gladden</tspan><tspan x="0" dy="8.25" class="r">Kutyla, M.</tspan><tspan x="0" dy="8.25" class="r">Locke</tspan><tspan x="0" dy="8.25" class="r">Park</tspan><tspan x="0" dy="8.25" class="r">Rios</tspan><tspan x="0" dy="8.25" class="r">Rivas</tspan><tspan x="0" dy="8.25" class="r">Romero</tspan><tspan x="0" dy="8.25" class="r">Thomas</tspan><tspan x="0" dy="8.25" class="r">Trapasso</tspan><tspan x="0" dy="8.25" class="r">Urutyan</tspan></text></g></g>

<g id="cnt-sgt"><rect class="bx fy" x="272" y="1800" width="42" height="63" rx="8"/><g transform="translate(293,1831.5) rotate(90)"><text y="-5.8" font-size="9"><tspan x="0" class="hr">CNT Sergeant</tspan><tspan x="0" dy="11" class="r">Grant</tspan><tspan x="0" dy="11.5" class="r">Cappell</tspan></text></g></g>

<g id="cnt-members"><rect class="bx fg" x="173" y="1799" width="59" height="64" rx="10"/><g transform="translate(202.5,1831) rotate(90)"><text y="-16.7" font-size="8"><tspan x="0" class="r">Lopez, R.</tspan><tspan x="0" dy="8.5" class="r">Hernandez, J.</tspan><tspan x="0" dy="8.5" class="r">Casey</tspan><tspan x="0" dy="8.5" class="r">Salazar</tspan><tspan x="0" dy="8.5" class="r">Michel, V.</tspan><tspan x="0" dy="8.5" class="r">Shimabukuro</tspan></text></g></g>

<g id="legend" class="lg"><rect x="527" y="1758" width="123" height="152" fill="#d9d9d9" stroke="#555" stroke-width="1.3"/><g transform="translate(642,1763) rotate(90)"><text y="3.2" font-size="9" font-weight="bold">Legend:</text><text y="23.2" font-size="9">* OPEN POSITION</text><text y="41.2" font-size="9"># ACTING POSITION</text><text y="60.2" font-size="9"><tspan style="fill:#e3262d;font-weight:bold">Red</tspan> COLLATERAL DUTY</text><text y="77.2" font-size="9">IOD:  Fairbanks, Murphy, Bixby</text><text y="96.2" font-size="9">Misc: Fleeger (LOA), Cisneros</text><text y="106.2" font-size="9">(ML)</text></g></g>
</svg>
